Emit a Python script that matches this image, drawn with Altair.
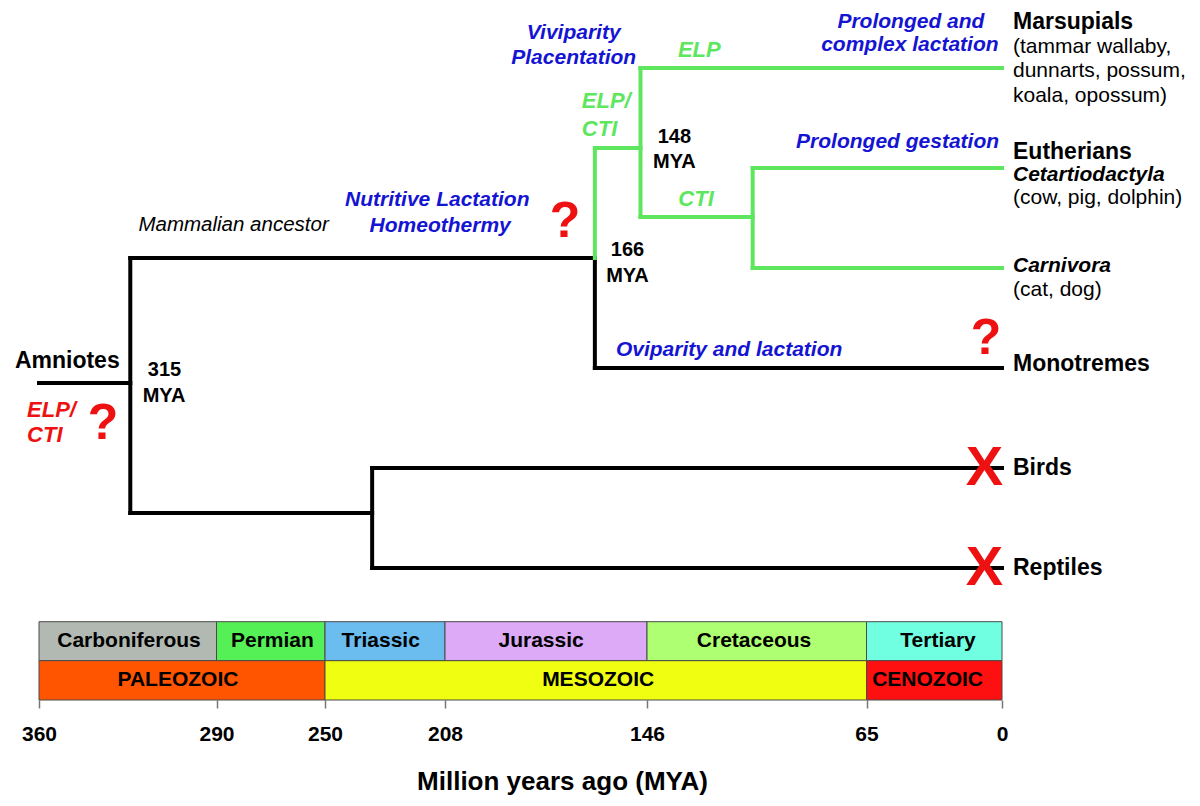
import altair as alt
import pandas as pd

FONT = "Liberation Sans"
BLACK = "#000000"
GREEN = "#5ee65e"
BLUE = "#1414d2"
RED = "#ee1111"

# ---------------- axis (million years ago) ----------------
tick_mya = [360, 290, 250, 208, 146, 65, 0]
tick_px = [31, 208.5, 317, 437, 639, 858.5, 994]   # hand-drawn, non-uniform time axis

# ---------------- geological periods ----------------
period_names = ["Carboniferous", "Permian", "Triassic", "Jurassic", "Cretaceous", "Tertiary"]
period_start = [360, 290, 250, 208, 146, 65]
period_end = [290, 250, 208, 146, 65, 0]
period_colors = ["#b2b9b2", "#55f055", "#6bbcef", "#dcaaf6", "#aeff72", "#70ffe0"]
period_label_mya = [324.5, 269.4, 230.5, 178.5, 106.5, 30.7]

era_names = ["PALEOZOIC", "MESOZOIC", "CENOZOIC"]
era_start = [360, 250, 65]
era_end = [250, 65, 0]
era_colors = ["#ff5500", "#f0ff12", "#ff1010"]
era_label_mya = [305.2, 161, 35.7]

period_row = [5.537, 5.927]
era_row = [5.927, 6.32]

# ---------------- tree branches (MYA, lane) ----------------
black_x1 = [360, 324, 324, 162, 162, 324, 233.5, 233.5, 233.5]
black_y1 = [3.15, 1.9, 1.9, 1.9, 3.0, 4.45, 4.0, 4.0, 5.0]
black_x2 = [324, 324, 162, 162, 0, 233.5, 233.5, 0, 0]
black_y2 = [3.15, 4.45, 1.9, 3.0, 3.0, 4.45, 5.0, 4.0, 5.0]

green_x1 = [162, 162, 148, 148, 148, 107, 107, 107]
green_y1 = [0.8, 0.8, 0.0, 0.0, 1.49, 1.0, 1.0, 2.0]
green_x2 = [162, 148, 148, 0, 107, 107, 0, 0]
green_y2 = [1.9, 0.8, 1.49, 0.0, 1.49, 2.0, 1.0, 2.0]

# ---------------- texts ----------------
tip_names = ["Marsupials", "Eutherians", "Monotremes", "Birds", "Reptiles"]
tip_name_lanes = [-0.46, 0.835, 2.955, 4.0, 5.0]

tip_notes = ["(tammar wallaby,", "dunnarts, possum,", "koala, opossum)", "(cow, pig, dolphin)", "(cat, dog)"]
tip_note_lanes = [-0.215, 0.032, 0.28, 1.30, 2.215]

tip_orders = ["Cetartiodactyla", "Carnivora"]
tip_order_lanes = [1.065, 1.98]

blue_texts = ["Viviparity", "Placentation", "Nutritive Lactation", "Homeothermy",
              "Oviparity and lactation", "Prolonged and", "complex lactation", "Prolonged gestation"]
blue_mya = [168.5, 168.5, 210.7, 209.7, 115.7, 43.7, 44.2, 50.1]
blue_lanes = [-0.347, -0.10, 1.32, 1.58, 2.82, -0.465, -0.235, 0.737]

green_center_texts = ["ELP", "CTI"]
green_center_mya = [126.7, 127.9]
green_center_lanes = [-0.18, 1.31]

green_left_texts = ["ELP/", "CTI"]
green_left_mya = [166, 166]
green_left_lanes = [0.33, 0.61]

red_left_texts = ["ELP/", "CTI"]
red_left_mya = [364.7, 364.7]
red_left_lanes = [3.42, 3.67]

question_mya = [334.8, 171.2, 7.7]
question_lanes = [3.555, 1.535, 2.705]

extinct_mya = [8.4, 8.4]
extinct_lanes = [4.0, 5.0]

age_texts = ["315", "MYA", "148", "MYA", "166", "MYA"]
age_mya = [310.5, 310.7, 135.9, 135.9, 152, 152]
age_lanes = [3.02, 3.275, 0.69, 0.94, 1.82, 2.075]

root_label = ["Amniotes"]
root_label_mya = [369.5]
root_label_lane = [2.933]

ancestor_label = ["Mammalian ancestor"]
ancestor_mya = [283.7]
ancestor_lane = [1.57]

# ---------------- scales ----------------
xscale = alt.Scale(domain=tick_mya, range=tick_px, nice=False, zero=False)
yscale = alt.Scale(domain=[-0.54, 6.32], reverse=True, nice=False, zero=False)

x_axis = alt.Axis(
    values=tick_mya, format="d", title="Million years ago (MYA)",
    domain=False, grid=False, ticks=True, tickSize=8, tickColor="#777777", tickWidth=1.5,
    labelFont=FONT, labelFontSize=21, labelFontWeight="bold", labelColor=BLACK,
    labelPadding=15, labelAngle=0, labelFlush=False, labelOverlap=False,
    titleFont=FONT, titleFontSize=26, titleFontWeight="bold", titleColor=BLACK,
    titleX=554, titleY=89, titleBaseline="alphabetic", titleAlign="center",
)


def seg_layer(x1, y1, x2, y2, color):
    df = pd.DataFrame({"x1": x1, "y1": y1, "x2": x2, "y2": y2})
    return alt.Chart(df).mark_rule(color=color, strokeWidth=4, strokeCap="square").encode(
        x=alt.X("x1:Q", scale=xscale, axis=x_axis),
        x2="x2:Q",
        y=alt.Y("y1:Q", scale=yscale, axis=None),
        y2="y2:Q",
    )


def text_layer(texts, xs, ys, size, color, weight="bold", style="normal", align="center", dx=0):
    df = pd.DataFrame({"label": texts, "mya": xs, "lane": ys})
    return alt.Chart(df).mark_text(
        font=FONT, fontSize=size, fontWeight=weight, fontStyle=style, color=color,
        align=align, baseline="middle", dx=dx,
    ).encode(
        x=alt.X("mya:Q", scale=xscale, axis=x_axis),
        y=alt.Y("lane:Q", scale=yscale, axis=None),
        text="label:N",
    )


band_df = pd.DataFrame({
    "name": period_names + era_names,
    "start": period_start + era_start,
    "end": period_end + era_end,
    "top": [period_row[0]] * len(period_names) + [era_row[0]] * len(era_names),
    "bottom": [period_row[1]] * len(period_names) + [era_row[1]] * len(era_names),
    "color": period_colors + era_colors,
})

bands = alt.Chart(band_df).mark_rect(stroke="#4a4a4a", strokeWidth=1).encode(
    x=alt.X("start:Q", scale=xscale, axis=x_axis),
    x2="end:Q",
    y=alt.Y("top:Q", scale=yscale, axis=None),
    y2="bottom:Q",
    fill=alt.Fill("color:N", scale=None),
)

period_text = text_layer(period_names, period_label_mya, [5.732] * len(period_names), 21, BLACK)
era_text = text_layer(era_names, era_label_mya, [6.12] * len(era_names), 21, BLACK)

layers = [
    bands,
    period_text,
    era_text,
    seg_layer(black_x1, black_y1, black_x2, black_y2, BLACK),
    seg_layer(green_x1, green_y1, green_x2, green_y2, GREEN),
    text_layer(tip_names, [0] * len(tip_names), tip_name_lanes, 23, BLACK, align="left", dx=11),
    text_layer(tip_notes, [0] * len(tip_notes), tip_note_lanes, 21, BLACK, weight="normal", align="left", dx=11),
    text_layer(tip_orders, [0] * len(tip_orders), tip_order_lanes, 21, BLACK, style="italic", align="left", dx=11),
    text_layer(blue_texts, blue_mya, blue_lanes, 21, BLUE, style="italic"),
    text_layer(green_center_texts, green_center_mya, green_center_lanes, 22, GREEN, style="italic"),
    text_layer(green_left_texts, green_left_mya, green_left_lanes, 22, GREEN, style="italic", align="left"),
    text_layer(red_left_texts, red_left_mya, red_left_lanes, 22, RED, style="italic", align="left"),
    text_layer(["?"] * len(question_mya), question_mya, question_lanes, 50, RED),
    text_layer(["X"] * len(extinct_mya), extinct_mya, extinct_lanes, 56, RED),
    text_layer(age_texts, age_mya, age_lanes, 20, BLACK),
    text_layer(root_label, root_label_mya, root_label_lane, 23, BLACK, align="left"),
    text_layer(ancestor_label, ancestor_mya, ancestor_lane, 20.5, BLACK, weight="normal", style="italic"),
]

chart = alt.layer(*layers).properties(
    width=1184,
    height=686,
    autosize=alt.AutoSizeParams(type="none"),
    padding={"left": 0, "top": 6, "right": 0, "bottom": 100},
    background="white",
).configure_view(stroke=None)

chart.save("out.html", embed_options={"renderer": "svg", "actions": False})
